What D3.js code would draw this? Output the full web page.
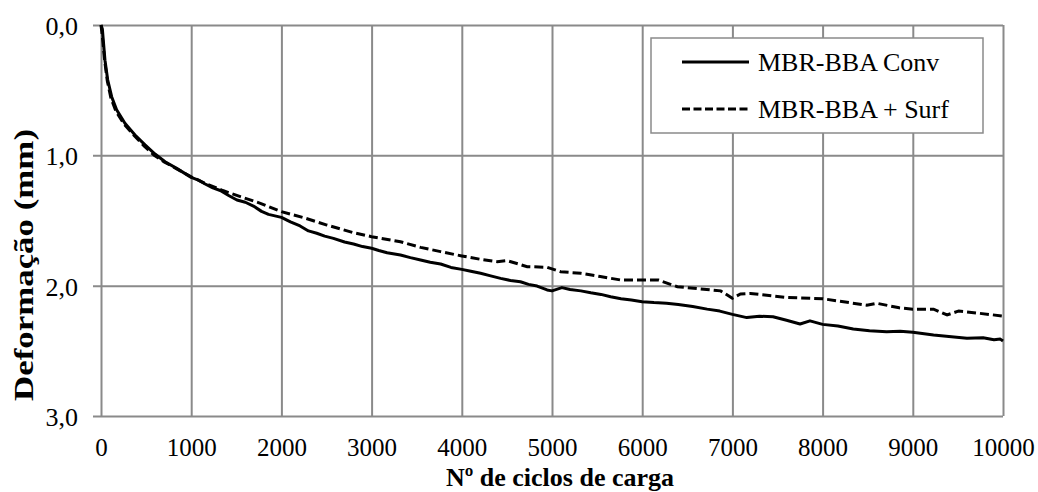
<!DOCTYPE html>
<html>
<head>
<meta charset="utf-8">
<script src="https://cdn.jsdelivr.net/npm/d3@7"></script>
<style>
  html, body { margin: 0; padding: 0; background: #fff; }
  svg { display: block; }
  text { font-family: "Liberation Serif", "Times New Roman", serif; fill: #000; }
</style>
</head>
<body>
<svg id="chart" width="1038" height="492"></svg>
<script>
// Axis ticks
const xTicks = [0, 1000, 2000, 3000, 4000, 5000, 6000, 7000, 8000, 9000, 10000];
const yTicks = [0, 1, 2, 3];

// Series: MBR-BBA Conv (solid)
const convCycles = [0, 15, 25, 44, 74, 118, 173, 265, 377, 488, 599, 710, 839, 1000, 1080, 1155, 1240, 1322, 1420, 1507, 1600, 1690, 1780, 1857, 2000, 2100, 2207, 2300, 2392, 2480, 2577, 2700, 2800, 2900, 3000, 3080, 3172, 3320, 3430, 3543, 3650, 3765, 3880, 4000, 4100, 4208, 4320, 4430, 4540, 4650, 4740, 4835, 4946, 5000, 5110, 5200, 5320, 5430, 5543, 5650, 5765, 5880, 6000, 6130, 6270, 6400, 6560, 6720, 6860, 7000, 7160, 7300, 7450, 7600, 7750, 7860, 8000, 8170, 8340, 8520, 8710, 8860, 9000, 9230, 9400, 9600, 9780, 9900, 9970, 10000];
const convDef    = [0, 0.03, 0.115, 0.27, 0.42, 0.55, 0.65, 0.754, 0.844, 0.92, 0.99, 1.049, 1.10, 1.169, 1.19, 1.22, 1.25, 1.27, 1.31, 1.343, 1.36, 1.389, 1.43, 1.453, 1.476, 1.51, 1.542, 1.58, 1.598, 1.62, 1.637, 1.665, 1.68, 1.70, 1.713, 1.73, 1.747, 1.765, 1.785, 1.803, 1.82, 1.834, 1.86, 1.875, 1.89, 1.905, 1.925, 1.944, 1.96, 1.97, 1.99, 2.003, 2.033, 2.04, 2.015, 2.03, 2.04, 2.055, 2.067, 2.085, 2.10, 2.11, 2.123, 2.13, 2.135, 2.145, 2.16, 2.18, 2.195, 2.22, 2.245, 2.235, 2.238, 2.265, 2.294, 2.27, 2.297, 2.31, 2.333, 2.345, 2.353, 2.35, 2.358, 2.379, 2.39, 2.404, 2.40, 2.415, 2.41, 2.425];

// Series: MBR-BBA + Surf (dashed)
const surfCycles = [0, 20, 40, 70, 110, 165, 255, 370, 480, 590, 700, 830, 1000, 1155, 1350, 1545, 1767, 2000, 2245, 2505, 2800, 3000, 3320, 3543, 3765, 4000, 4208, 4393, 4503, 4725, 4946, 5095, 5320, 5535, 5765, 6000, 6180, 6390, 6870, 7000, 7090, 7200, 7600, 8000, 8490, 8600, 8850, 9000, 9230, 9380, 9510, 10000];
const surfDef    = [0, 0.12, 0.27, 0.43, 0.56, 0.66, 0.76, 0.85, 0.93, 1.0, 1.05, 1.10, 1.165, 1.215, 1.27, 1.317, 1.368, 1.432, 1.478, 1.535, 1.594, 1.624, 1.663, 1.706, 1.739, 1.772, 1.798, 1.816, 1.808, 1.854, 1.859, 1.893, 1.905, 1.93, 1.957, 1.957, 1.957, 2.008, 2.04, 2.097, 2.064, 2.06, 2.09, 2.10, 2.15, 2.135, 2.17, 2.18, 2.18, 2.225, 2.194, 2.233];

const seriesNames = ["MBR-BBA Conv", "MBR-BBA + Surf"];
const xTitle = "Nº de ciclos de carga";
const yTitle = "Deformação (mm)";

const W = 1038, H = 492;
const margin = { top: 25, right: 35, bottom: 76, left: 101 };
const iw = W - margin.left - margin.right;
const ih = H - margin.top - margin.bottom;

const svg = d3.select("#chart");
svg.append("rect").attr("width", W).attr("height", H).attr("fill", "#fff");

const g = svg.append("g").attr("transform", `translate(${margin.left},${margin.top})`);

const x = d3.scaleLinear().domain([0, 10000]).range([0, iw]);
const y = d3.scaleLinear().domain([0, 3]).range([0, ih]);

const gridColor = "#8a8a8a";
const fmtY = v => d3.format(".1f")(v).replace(".", ",");

// Horizontal gridlines with short outer ticks, labels on the left
const yAxis = d3.axisLeft(y).tickValues(yTicks).tickFormat(fmtY)
  .tickSizeInner(-iw).tickSizeOuter(0).tickPadding(16);
const yg = g.append("g").call(yAxis);
yg.select(".domain").remove();
yg.selectAll(".tick line").attr("x1", -8).attr("stroke", gridColor).attr("stroke-width", 2);
yg.selectAll(".tick text")
  .attr("font-size", 26).attr("fill", "#000")
  .attr("dy", "0.36em").attr("x", -23);

// Vertical gridlines, labels below
const xAxis = d3.axisBottom(x).tickValues(xTicks).tickFormat(d3.format("d"))
  .tickSizeInner(-ih).tickSizeOuter(0).tickPadding(22);
const xg = g.append("g").attr("transform", `translate(0,${ih})`).call(xAxis);
xg.select(".domain").remove();
xg.selectAll(".tick line").attr("stroke", gridColor).attr("stroke-width", 2);
xg.selectAll(".tick text")
  .attr("font-size", 25).attr("fill", "#000");

// Lines
const convData = convCycles.map((c, i) => [c, convDef[i]]);
const surfData = surfCycles.map((c, i) => [c, surfDef[i]]);
const line = d3.line().x(d => x(d[0])).y(d => y(d[1]));

g.append("path").datum(surfData)
  .attr("d", line).attr("fill", "none").attr("stroke", "#000")
  .attr("stroke-width", 3).attr("stroke-dasharray", "9,4");

g.append("path").datum(convData)
  .attr("d", line).attr("fill", "none").attr("stroke", "#000")
  .attr("stroke-width", 3).attr("stroke-linejoin", "round");

// Legend
const lg = svg.append("g").attr("transform", "translate(651,38)");
lg.append("rect").attr("width", 332).attr("height", 95)
  .attr("fill", "#fff").attr("stroke", gridColor).attr("stroke-width", 1.5);
const dashes = [null, "8,3.5"];
seriesNames.forEach((name, i) => {
  const yy = 24 + i * 47;
  lg.append("line").attr("x1", 31).attr("x2", 98).attr("y1", yy).attr("y2", yy)
    .attr("stroke", "#000").attr("stroke-width", 3)
    .attr("stroke-dasharray", dashes[i]);
  lg.append("text").attr("x", 107).attr("y", yy).attr("dy", "0.35em")
    .attr("font-size", 26).text(name);
});

// Axis titles
svg.append("text")
  .attr("x", 560).attr("y", 486)
  .attr("text-anchor", "middle").attr("font-size", 26).attr("font-weight", "bold")
  .text(xTitle);

svg.append("text")
  .attr("transform", "translate(33,265) rotate(-90)")
  .attr("text-anchor", "middle").attr("font-size", 28).attr("font-weight", "bold")
  .attr("textLength", 272).attr("lengthAdjust", "spacingAndGlyphs")
  .text(yTitle);
</script>
</body>
</html>
